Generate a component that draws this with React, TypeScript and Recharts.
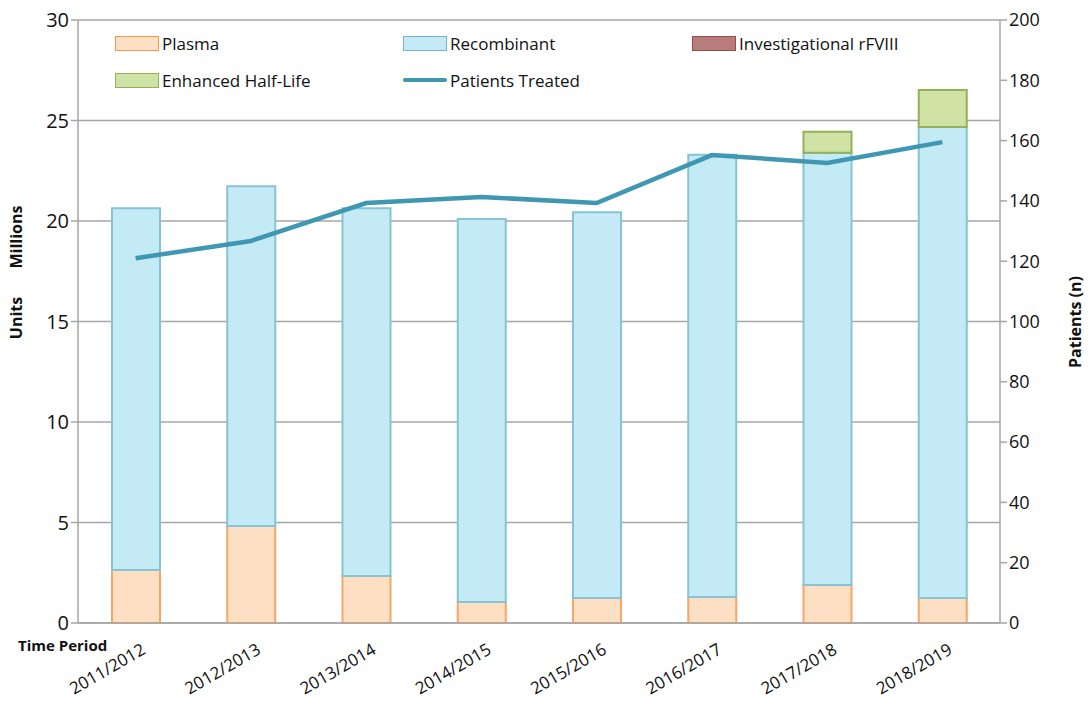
import { ComposedChart, Bar, Line, XAxis, YAxis, CartesianGrid, Label } from 'recharts';

const periods = ['2011/2012', '2012/2013', '2013/2014', '2014/2015', '2015/2016', '2016/2017', '2017/2018', '2018/2019'];
const plasma = [2.64, 4.83, 2.34, 1.04, 1.24, 1.29, 1.89, 1.24];
const recombinant = [18.0, 16.9, 18.3, 19.06, 19.2, 22.0, 21.5, 23.44];
const investigational = [0, 0, 0, 0, 0, 0, 0, 0];
const enhancedHalfLife = [0, 0, 0, 0, 0, 0, 1.05, 1.84];
const patientsTreated = [121, 126.7, 139.3, 141.3, 139.3, 155.2, 152.6, 159.5];

const leftTicks = [0, 5, 10, 15, 20, 25, 30];
const rightTicks = [0, 20, 40, 60, 80, 100, 120, 140, 160, 180, 200];

const data = periods.map((p, i) => ({
  period: p,
  plasma: plasma[i],
  recombinant: recombinant[i],
  investigational: investigational[i],
  ehl: enhancedHalfLife[i],
  patients: patientsTreated[i],
}));

const FONT = '"Open Sans", "Noto Sans", sans-serif';

const legendItems = [
  { label: 'Plasma', fill: '#fde0c3', stroke: '#f79646', left: 115, top: 35, type: 'box' },
  { label: 'Recombinant', fill: '#c4eaf5', stroke: '#6fb7cc', left: 403, top: 35, type: 'box' },
  { label: 'Investigational rFVIII', fill: '#b87c7c', stroke: '#9b4a4a', left: 692, top: 35, type: 'box' },
  { label: 'Enhanced Half-Life', fill: '#d0e3a4', stroke: '#93b05a', left: 115, top: 72, type: 'box' },
  { label: 'Patients Treated', fill: '#3f97b1', stroke: '#3f97b1', left: 403, top: 72, type: 'line' },
];

function ChartLegend() {
  return (
    <div style={{ position: 'absolute', left: 0, top: 0, width: 1091, height: 100, fontFamily: FONT, pointerEvents: 'none' }}>
      {legendItems.map((it) => (
        <div key={it.label} style={{ position: 'absolute', left: it.left, top: it.top, display: 'flex', alignItems: 'center', height: 16 }}>
          {it.type === 'box' ? (
            <div style={{ width: 42, height: 13, background: it.fill, border: `1.5px solid ${it.stroke}` }} />
          ) : (
            <div style={{ width: 44, height: 4, borderRadius: 2, background: it.fill }} />
          )}
          <span style={{ marginLeft: 3, fontSize: 17, color: '#111', whiteSpace: 'nowrap' }}>{it.label}</span>
        </div>
      ))}
    </div>
  );
}

function PeriodTick(props: any) {
  const { x, y, payload } = props;
  return (
    <g transform={`translate(${x + 11},${y + 22})`}>
      <text textAnchor="end" transform="rotate(-30)" fontSize={17} fontFamily={FONT} fill="#111">
        {payload.value}
      </text>
    </g>
  );
}

function UnitsLabel() {
  const cx = 22;
  return (
    <g fontFamily={FONT} fontSize={16} fontWeight="bold" fill="#111">
      <text transform={`translate(${cx},318) rotate(-90)`} textAnchor="middle">Units</text>
      <text transform={`translate(${cx},237) rotate(-90)`} textAnchor="middle">Millions</text>
    </g>
  );
}

function PatientsLabel() {
  return (
    <text transform="translate(1081,322) rotate(-90)" textAnchor="middle" fontFamily={FONT} fontSize={16} fontWeight="bold" fill="#111">
      Patients (n)
    </text>
  );
}

export default function App() {
  return (
    <div style={{ position: 'fixed', left: 0, top: 0, width: 1091, height: 704, background: '#fff' }}>
      <ComposedChart width={1091} height={704} data={data} margin={{ top: 20, right: 31, bottom: 10, left: 18 }} barSize={48}>
        <CartesianGrid yAxisId="left" vertical={false} stroke="#a6a6a6" strokeWidth={1.5} />
        <XAxis
          dataKey="period"
          height={71}
          interval={0}
          tick={<PeriodTick />}
          tickLine={false}
          axisLine={{ stroke: '#a6a6a6', strokeWidth: 1.5 }}
        />
        <YAxis
          yAxisId="left"
          width={60}
          domain={[0, 30]}
          ticks={leftTicks}
          tick={{ fontSize: 20, fontFamily: FONT, fill: '#111' }}
          tickLine={{ stroke: '#a6a6a6', strokeWidth: 1.5 }}
          tickSize={7}
          axisLine={{ stroke: '#a6a6a6', strokeWidth: 1.5 }}
        >
          <Label content={<UnitsLabel />} />
        </YAxis>
        <YAxis
          yAxisId="right"
          orientation="right"
          width={60}
          domain={[0, 200]}
          ticks={rightTicks}
          tick={{ fontSize: 18, fontFamily: FONT, fill: '#111' }}
          tickLine={{ stroke: '#a6a6a6', strokeWidth: 1.5 }}
          tickSize={7}
          axisLine={{ stroke: '#a6a6a6', strokeWidth: 1.5 }}
        >
          <Label content={<PatientsLabel />} />
        </YAxis>
        <Bar yAxisId="left" dataKey="plasma" stackId="a" fill="#fde0c3" stroke="#f8a565" strokeWidth={2} isAnimationActive={false} />
        <Bar yAxisId="left" dataKey="recombinant" stackId="a" fill="#c4eaf5" stroke="#86c3d5" strokeWidth={2} isAnimationActive={false} />
        <Bar yAxisId="left" dataKey="investigational" stackId="a" fill="#b87c7c" stroke="#9b4a4a" strokeWidth={2} isAnimationActive={false} />
        <Bar yAxisId="left" dataKey="ehl" stackId="a" fill="#d0e3a4" stroke="#93b05a" strokeWidth={2} isAnimationActive={false} />
        <Line yAxisId="right" dataKey="patients" type="linear" stroke="#3f97b1" strokeWidth={4.5} dot={false} activeDot={false} isAnimationActive={false} />
      </ComposedChart>
      <ChartLegend />
      <div style={{ position: 'absolute', left: 18, top: 637, lineHeight: '16px', fontFamily: FONT, fontWeight: 'bold', fontSize: 15, color: '#111' }}>
        Time Period
      </div>
    </div>
  );
}
